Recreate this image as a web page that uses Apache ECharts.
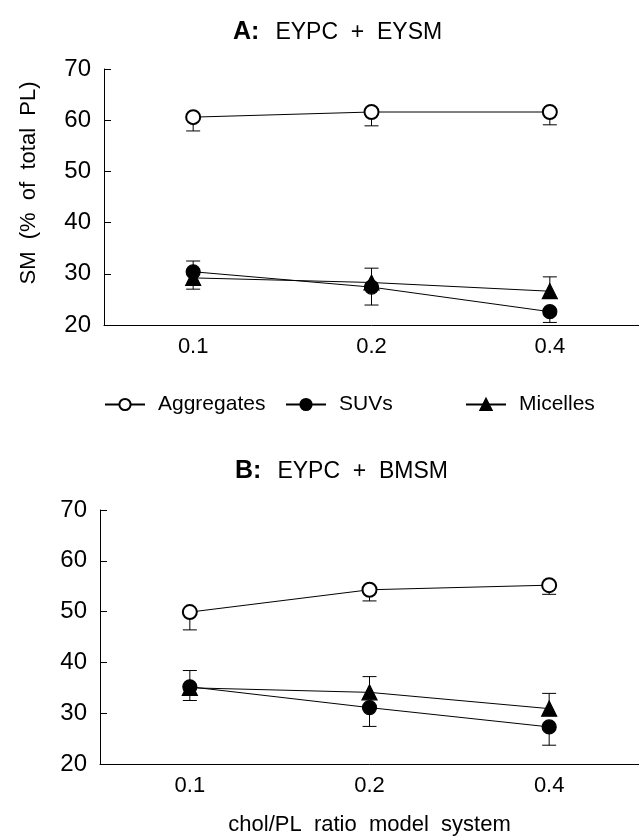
<!DOCTYPE html>
<html>
<head>
<meta charset="utf-8">
<script src="https://cdn.jsdelivr.net/npm/echarts@6/dist/echarts.min.js"></script>
<style>
    html, body { margin: 0; padding: 0; background: #fff; }
    #chart { width: 639px; height: 837px; }
</style>
</head>
<body>
<div id="chart"></div>
<script>
    // chol/PL ratio
    var ratios = ['0.1', '0.2', '0.4'];
    var yTicks = [20, 30, 40, 50, 60, 70];

    // panel A: EYPC + EYSM
    var aggA = [60.6, 61.6, 61.6];
    var aggAErr = [2.7, 2.7, 2.5];
    var suvA = [30.4, 27.4, 22.6];
    var suvAErr = [3.4, 3.5, 2.1];
    var micA = [29.2, 28.3, 26.6];
    var micAErr = [3.3, 2.8, 2.8];

    // panel B: EYPC + BMSM
    var aggB = [49.9, 54.3, 55.2];
    var aggBErr = [3.5, 2.2, 1.8];
    var suvB = [35.2, 31.1, 27.3];
    var suvBErr = [2.7, 3.7, 3.6];
    var micB = [35.0, 34.1, 30.9];
    var micBErr = [3.4, 3.1, 3.0];

    var FONT = '"Liberation Sans", Arial, sans-serif';

    // error bar data: [index, value, end]
    function errData(vals, errs, dir) {
        var out = [];
        for (var i = 0; i < vals.length; i++) {
            out.push([i, vals[i], vals[i] + dir * errs[i]]);
        }
        return out;
    }

    function renderErr(params, api) {
        var p0 = api.coord([api.value(0), api.value(1)]);
        var p1 = api.coord([api.value(0), api.value(2)]);
        return {
            type: 'group',
            children: [
                { type: 'line', shape: { x1: p0[0], y1: p0[1], x2: p1[0], y2: p1[1] }, style: { stroke: '#000', lineWidth: 1 } },
                { type: 'line', shape: { x1: p1[0] - 7, y1: p1[1], x2: p1[0] + 7, y2: p1[1] }, style: { stroke: '#000', lineWidth: 1 } }
            ]
        };
    }

    function errSeries(idx, vals, errs, dir) {
        return {
            type: 'custom',
            xAxisIndex: idx,
            yAxisIndex: idx,
            z: 1,
            silent: true,
            renderItem: renderErr,
            encode: { x: 0, y: [1, 2] },
            data: errData(vals, errs, dir)
        };
    }

    function lineSeries(idx, name, vals) {
        var sym = { 'Aggregates': 'emptyCircle', 'SUVs': 'circle', 'Micelles': 'triangle' }[name];
        return {
            name: name,
            type: 'line',
            xAxisIndex: idx,
            yAxisIndex: idx,
            z: 3,
            symbol: sym,
            symbolSize: name === 'Micelles' ? 15 : 14,
            lineStyle: { color: '#000', width: 1 },
            itemStyle: { color: '#000', borderColor: '#000', borderWidth: 1.2 },
            emphasis: { disabled: true },
            data: vals
        };
    }

    function xAxisCfg(idx, withName) {
        var a = {
            type: 'category',
            gridIndex: idx,
            data: ratios,
            boundaryGap: true,
            axisLine: { lineStyle: { color: '#000', width: 1 } },
            axisTick: { inside: true, length: 5, alignWithLabel: true, lineStyle: { color: '#000' } },
            axisLabel: { color: '#000', fontFamily: FONT, fontSize: 22, margin: 11 }
        };
        if (withName) {
            a.name = 'chol/PL  ratio  model  system';
            a.nameLocation = 'middle';
            a.nameGap = 50;
            a.nameTextStyle = { color: '#000', fontFamily: FONT, fontSize: 22 };
        }
        return a;
    }

    function yAxisCfg(idx, withName) {
        var a = {
            type: 'value',
            gridIndex: idx,
            min: yTicks[0],
            max: yTicks[yTicks.length - 1],
            interval: 10,
            axisLine: { show: true, lineStyle: { color: '#000', width: 1 } },
            axisTick: { show: true, inside: true, length: 7, lineStyle: { color: '#000' } },
            axisLabel: { color: '#000', fontFamily: FONT, fontSize: 24, margin: 13 },
            splitLine: { show: false }
        };
        if (withName) {
            a.name = 'SM  (%  of  total  PL)';
            a.nameLocation = 'middle';
            a.nameGap = 64;
            a.nameTextStyle = { color: '#000', fontFamily: FONT, fontSize: 22, padding: [0, 0, 0, 28] };
        }
        return a;
    }

    function legendCfg(name, left) {
        return {
            data: [name],
            left: left,
            top: 394,
            padding: 0,
            itemWidth: 40,
            itemHeight: 14,
            selectedMode: false,
            textStyle: { color: '#000', fontFamily: FONT, fontSize: 21, padding: [0, 0, 0, 8] }
        };
    }

    var titleRich = {
        a: { fontFamily: FONT, fontSize: 25, fontWeight: 'bold', color: '#000' },
        b: { fontFamily: FONT, fontSize: 23, fontWeight: 'normal', color: '#000', padding: [0, 0, 0, 16] }
    };

    var option = {
        animation: false,
        backgroundColor: '#fff',
        title: [
            { text: '{a|A:}{b|EYPC  +  EYSM}', left: 228, top: 15, textStyle: { fontWeight: 'normal', rich: titleRich } },
            { text: '{a|B:}{b|EYPC  +  BMSM}', left: 230, top: 454, textStyle: { fontWeight: 'normal', rich: titleRich } }
        ],
        legend: [
            legendCfg('Aggregates', 104),
            legendCfg('SUVs', 285),
            legendCfg('Micelles', 465)
        ],
        grid: [
            { left: 104, top: 69, width: 540, height: 256 },
            { left: 100, top: 510, width: 540, height: 256 }
        ],
        xAxis: [xAxisCfg(0, false), xAxisCfg(1, true)],
        yAxis: [yAxisCfg(0, true), yAxisCfg(1, false)],
        series: [
            errSeries(0, aggA, aggAErr, -1),
            errSeries(0, suvA, suvAErr, -1),
            errSeries(0, micA, micAErr, 1),
            lineSeries(0, 'Aggregates', aggA),
            lineSeries(0, 'SUVs', suvA),
            lineSeries(0, 'Micelles', micA),
            errSeries(1, aggB, aggBErr, -1),
            errSeries(1, suvB, suvBErr, -1),
            errSeries(1, micB, micBErr, 1),
            lineSeries(1, 'Aggregates', aggB),
            lineSeries(1, 'SUVs', suvB),
            lineSeries(1, 'Micelles', micB)
        ]
    };

    var myChart = echarts.init(document.getElementById('chart'), null, { renderer: 'canvas' });
    myChart.setOption(option, true);
</script>
</body>
</html>
